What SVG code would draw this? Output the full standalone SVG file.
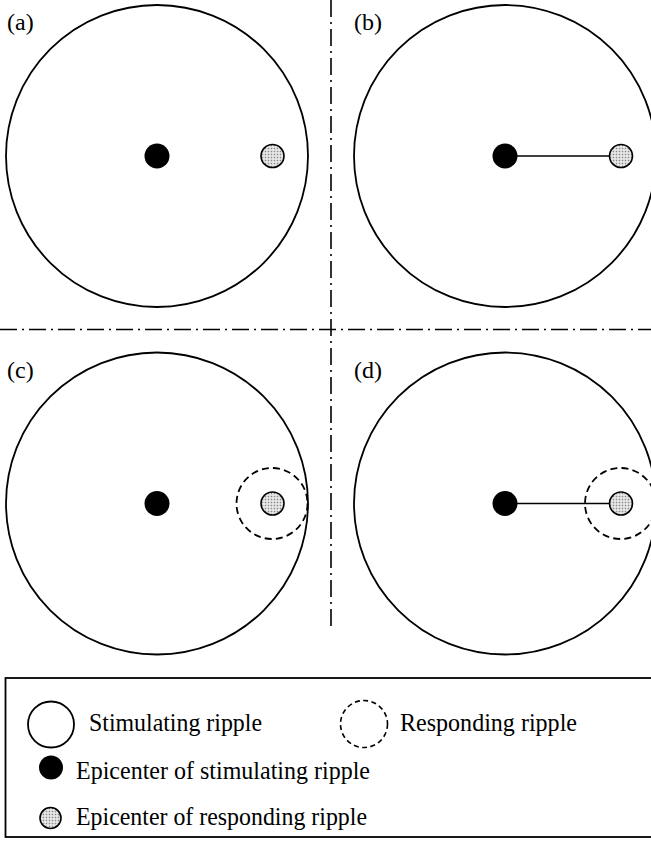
<svg xmlns="http://www.w3.org/2000/svg" width="651" height="841" viewBox="0 0 651 841">
<defs>
<pattern id="dots" width="3" height="3" patternUnits="userSpaceOnUse">
<rect width="3" height="3" fill="#f0f0f0"/>
<rect x="0.7" y="0.7" width="1.6" height="1.6" fill="#8a8a8a"/>
</pattern>
<style>
.ripple{fill:none;stroke:#000;stroke-width:1.8}
.resp{fill:none;stroke:#000;stroke-width:1.8;stroke-dasharray:7 4.2}
.epi{fill:#000}
.repi{fill:url(#dots);stroke:#000;stroke-width:1.6}
.dd{stroke:#000;stroke-width:1.6;stroke-dasharray:17 5 2 5;fill:none}
.link{stroke:#000;stroke-width:1.6}
text{font-family:"Liberation Serif","Times New Roman",serif;font-size:24px;fill:#000}
.lg{font-size:26px}
</style>
</defs>
<rect width="651" height="841" fill="#fff"/>
<g id="dividers">
<line class="dd" x1="0" y1="329.5" x2="651" y2="329.5"/>
<line class="dd" x1="331" y1="0" x2="331" y2="630"/>
</g>
<g id="panel-a">
<text x="7" y="30">(a)</text>
<circle class="ripple" cx="157" cy="156" r="151"/>
<circle class="epi" cx="157" cy="156" r="12.5"/>
<circle class="repi" cx="272.5" cy="156" r="11.5"/>
</g>
<g id="panel-b">
<text x="354" y="30">(b)</text>
<circle class="ripple" cx="505" cy="156" r="151"/>
<line class="link" x1="505" y1="156" x2="610" y2="156"/>
<circle class="epi" cx="505" cy="156" r="12.5"/>
<circle class="repi" cx="621" cy="156" r="11.5"/>
</g>
<g id="panel-c">
<text x="7" y="378">(c)</text>
<circle class="ripple" cx="157" cy="503.5" r="151"/>
<circle class="epi" cx="157" cy="503.5" r="12.5"/>
<circle class="resp" cx="272" cy="503.5" r="35.5"/>
<circle class="repi" cx="272.5" cy="503.5" r="11.5"/>
</g>
<g id="panel-d">
<text x="354" y="378">(d)</text>
<circle class="ripple" cx="505" cy="503.5" r="151"/>
<line class="link" x1="505" y1="503.5" x2="610" y2="503.5"/>
<circle class="epi" cx="505" cy="503.5" r="12.5"/>
<circle class="resp" cx="620.5" cy="503.5" r="35.5"/>
<circle class="repi" cx="621" cy="503.5" r="11.5"/>
</g>
<g id="legend">
<rect x="5.5" y="678" width="650" height="159" fill="none" stroke="#000" stroke-width="1.8"/>
<circle class="ripple" cx="51" cy="724.5" r="23"/>
<text class="lg" x="89" y="731" textLength="173" lengthAdjust="spacingAndGlyphs">Stimulating ripple</text>
<circle fill="none" stroke="#000" stroke-width="1.6" stroke-dasharray="5 3.4" cx="364" cy="724" r="23.5"/>
<text class="lg" x="400" y="731" textLength="177" lengthAdjust="spacingAndGlyphs">Responding ripple</text>
<circle class="epi" cx="51" cy="767.5" r="12"/>
<text class="lg" x="76" y="779" textLength="294" lengthAdjust="spacingAndGlyphs">Epicenter of stimulating ripple</text>
<circle class="repi" cx="50.5" cy="818" r="10.5"/>
<text class="lg" x="76" y="825" textLength="291" lengthAdjust="spacingAndGlyphs">Epicenter of responding ripple</text>
</g>
</svg>
